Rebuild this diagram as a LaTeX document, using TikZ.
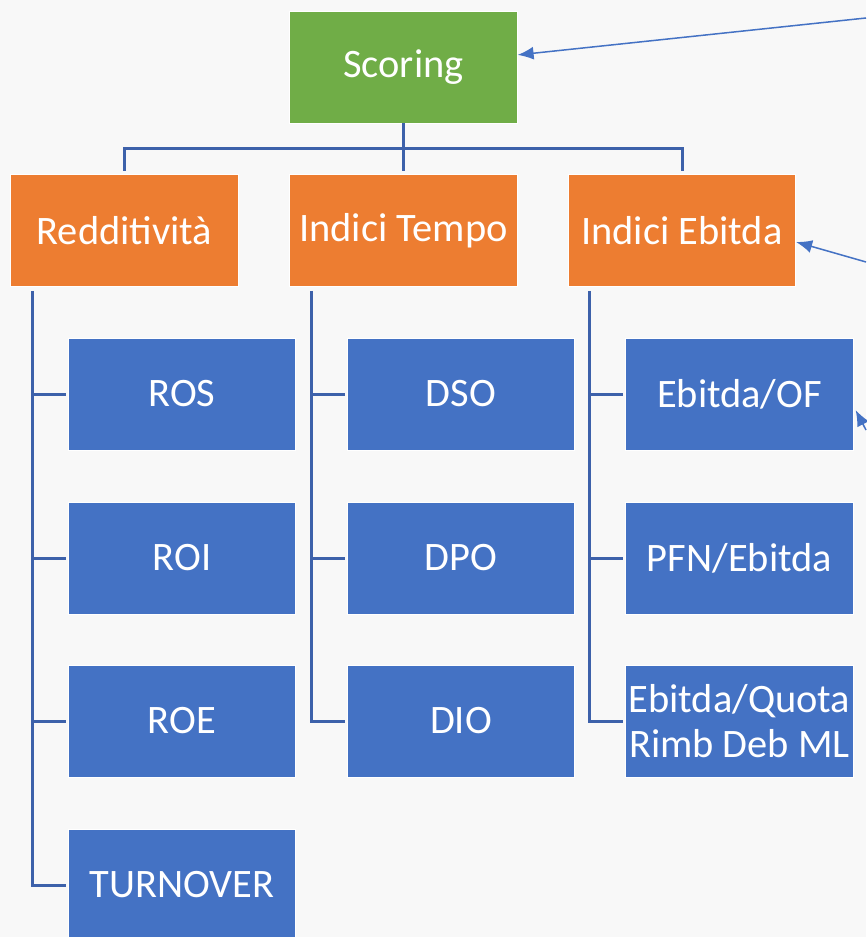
\documentclass[tikz,border=0pt]{standalone}
\usepackage{fontspec}
\setmainfont{Carlito}
\usetikzlibrary{arrows.meta}
\definecolor{scorgreen}{HTML}{70AD47}
\definecolor{grouporange}{HTML}{ED7D31}
\definecolor{ratioblue}{HTML}{4472C4}
\definecolor{treeblue}{HTML}{3D61AA}
\definecolor{bgpaper}{HTML}{F8F8F8}
\tikzset{
  >={Latex[length=.32cm,width=.26cm]},
}
\tikzstyle{box}=[draw=white,line width=.4pt,minimum width=4.55cm,minimum height=2.24cm,inner sep=0pt,text=white,font=\fontsize{23}{25.5}\selectfont,align=center]
\tikzstyle{scorebox}=[box,fill=scorgreen]
\tikzstyle{groupbox}=[box,fill=grouporange]
\tikzstyle{ratiobox}=[box,fill=ratioblue]
\tikzstyle{tree}=[line width=.06cm,treeblue]
\tikzstyle{pointer}=[line width=.03cm,ratioblue,->]

\begin{document}
\begin{tikzpicture}
    \fill[bgpaper] (0,0) rectangle (17.32,-18.74);
    \useasboundingbox (0,0) rectangle (17.32,-18.74);
    \node[scorebox] (scoring) at (8.07,-1.34) {Scoring};
    \node[groupbox] (redd) at (2.49,-4.61) {Redditività};
    \node[groupbox] (tempo) at (8.07,-4.61) {Indici Tempo};
    \node[groupbox] (ebitda) at (13.64,-4.61) {Indici Ebitda};
    \node[ratiobox] (ros) at (3.64,-7.88) {ROS};
    \node[ratiobox] (roi) at (3.64,-11.16) {ROI};
    \node[ratiobox] (roe) at (3.64,-14.42) {ROE};
    \node[ratiobox] (turnover) at (3.64,-17.70) {TURNOVER};
    \node[ratiobox] (dso) at (9.22,-7.88) {DSO};
    \node[ratiobox] (dpo) at (9.22,-11.16) {DPO};
    \node[ratiobox] (dio) at (9.22,-14.42) {DIO};
    \node[ratiobox] (ebof) at (14.79,-7.88) {Ebitda/OF};
    \node[ratiobox] (pfn) at (14.79,-11.16) {PFN/Ebitda};
    \node[ratiobox] (quota) at (14.79,-14.42) {Ebitda/Quota\\Rimb Deb ML};
    % top level
    \draw[tree,shorten >=.06cm] (scoring.south) -- ++(0,-.5) -| (redd.north);
    \draw[tree,shorten >=.06cm] (scoring.south) -- ++(0,-.5) -| (ebitda.north);
    \draw[tree,shorten >=.06cm] (scoring.south) -- (tempo.north);
    % spines
    \coordinate (rspine) at ([xshift=.44cm,yshift=-.08cm]redd.south west);
    \coordinate (tspine) at ([xshift=.44cm,yshift=-.08cm]tempo.south west);
    \coordinate (espine) at ([xshift=.44cm,yshift=-.08cm]ebitda.south west);
    \draw[tree,shorten >=.04cm] (rspine) |- (turnover.west);
    \draw[tree,shorten >=.04cm] (rspine |- ros.west) -- (ros.west);
    \draw[tree,shorten >=.04cm] (rspine |- roi.west) -- (roi.west);
    \draw[tree,shorten >=.04cm] (rspine |- roe.west) -- (roe.west);
    \draw[tree,shorten >=.04cm] (tspine) |- (dio.west);
    \draw[tree,shorten >=.04cm] (tspine |- dso.west) -- (dso.west);
    \draw[tree,shorten >=.04cm] (tspine |- dpo.west) -- (dpo.west);
    \draw[tree,shorten >=.04cm] (espine) |- (quota.west);
    \draw[tree,shorten >=.04cm] (espine |- ebof.west) -- (ebof.west);
    \draw[tree,shorten >=.04cm] (espine |- pfn.west) -- (pfn.west);
    % pointers from outside
    \coordinate (src1) at (17.32,-.36);
    \coordinate (src2) at (17.32,-5.24);
    \coordinate (src3) at (17.32,-8.6);
    \draw[pointer] (src1) -- (scoring);
    \draw[pointer] (src2) -- ([yshift=-.23cm]ebitda.east);
    \draw[pointer] (src3) -- ([xshift=.04cm,yshift=-.32cm]ebof.east);
\end{tikzpicture}
\end{document}
